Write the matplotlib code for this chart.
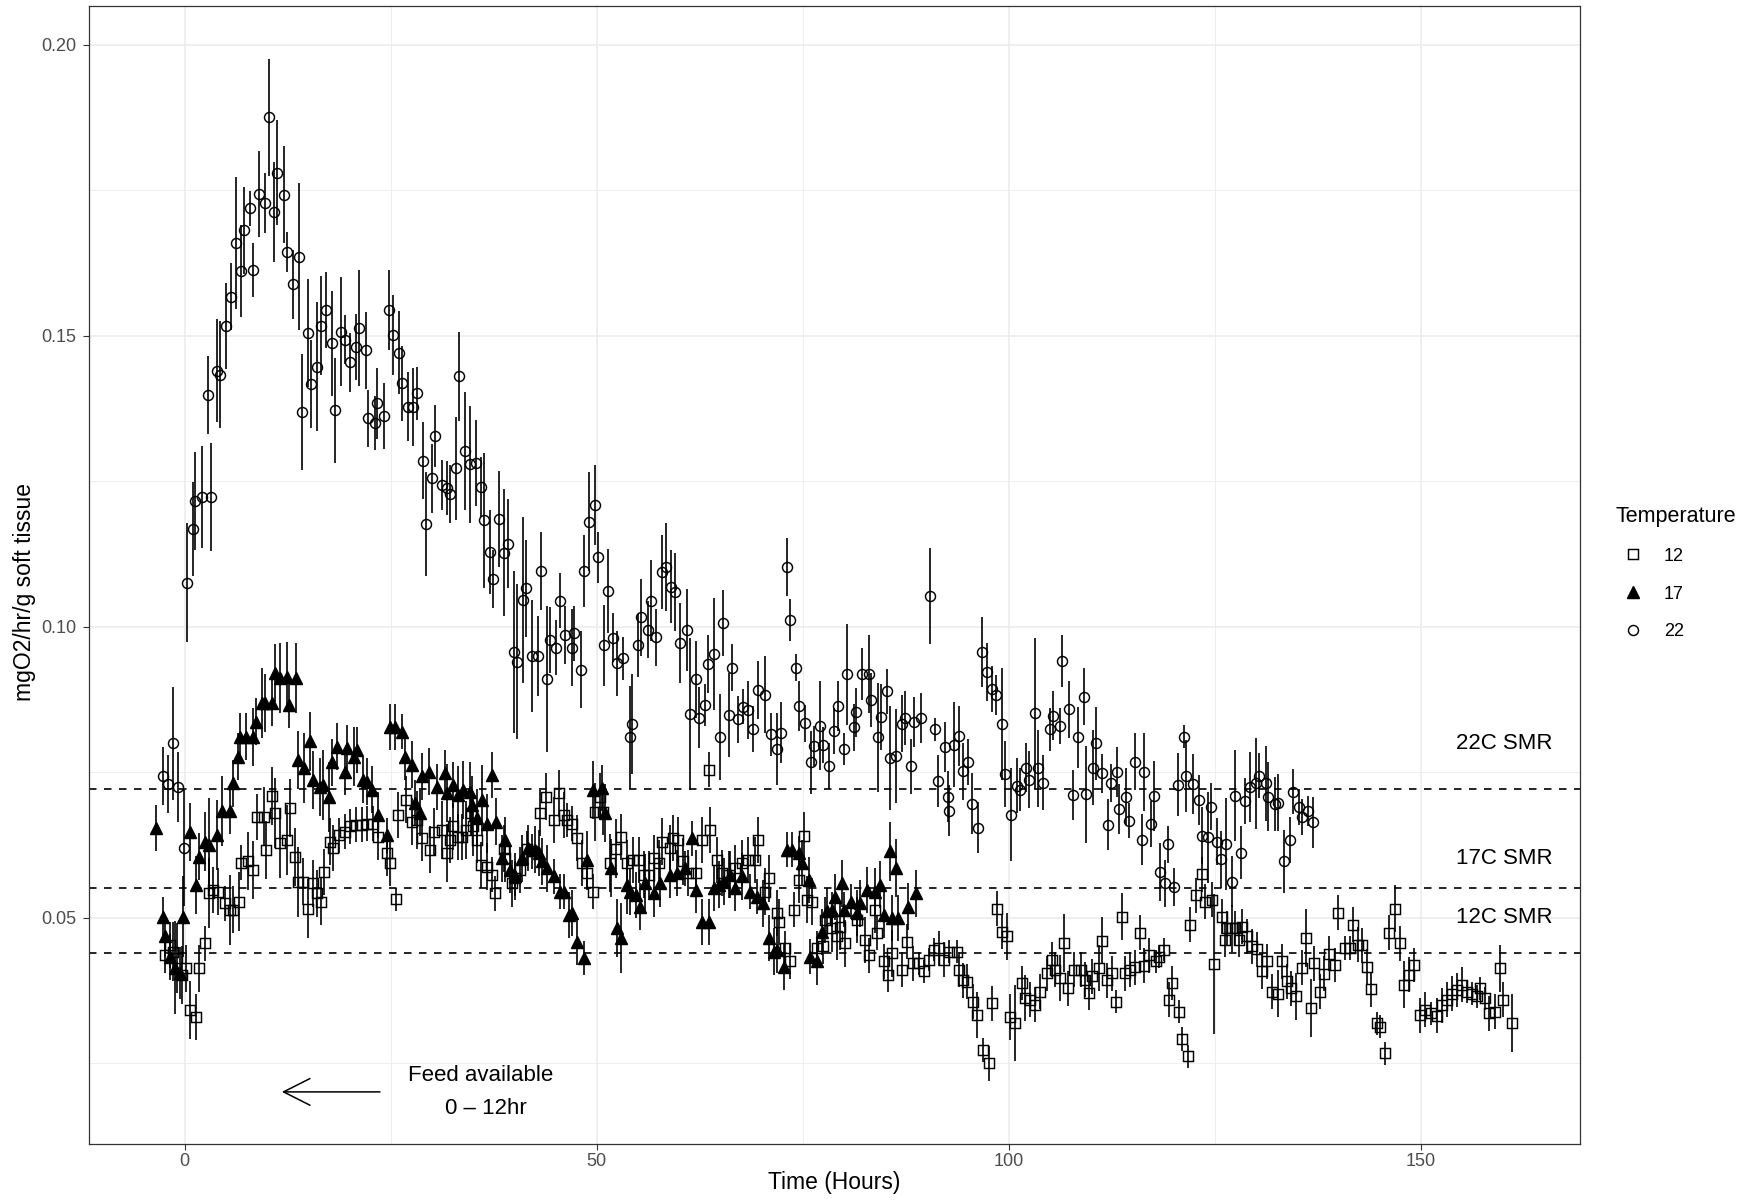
import matplotlib
matplotlib.use("Agg")
import matplotlib.pyplot as plt
from matplotlib.lines import Line2D
from matplotlib.ticker import MultipleLocator

plt.rcParams['font.family'] = ['Liberation Sans', 'DejaVu Sans']

# --- 22 C : temps (h), consommation O2, erreur ---
hrs_22 = [-2.65, -1.97, -1.36, -0.75, -0.06, 0.27, 1.0, 1.27, 2.1, 2.85,
          3.2, 3.95, 4.3, 5.04, 5.6, 6.2, 6.86, 7.26, 7.95, 8.35,
          9.04, 9.73, 10.2, 10.9, 11.2, 12.0, 12.4, 13.1, 13.9, 14.2,
          14.95, 15.3, 16.1, 16.6, 17.2, 17.9, 18.3, 19.0, 19.4, 20.1,
          20.8, 21.2, 22.0, 22.3, 23.1, 23.4, 24.2, 24.85, 25.3, 26.0,
          26.4, 27.1, 27.7, 28.2, 28.9, 29.3, 30.0, 30.4, 31.2, 31.8,
          32.2, 32.95, 33.35, 34.0, 34.6, 35.3, 35.9, 36.3, 37.1, 37.4,
          38.1, 38.8, 39.2, 40.0, 40.3, 41.0, 41.4, 42.1, 42.9, 43.3,
          43.96, 44.3, 45.1, 45.6, 46.2, 47.0, 47.3, 48.1, 48.4, 49.1,
          49.8, 50.2, 50.9, 51.4, 52.0, 52.5, 53.2, 54.0, 54.3, 55.0,
          55.4, 56.2, 56.6, 57.2, 57.9, 58.4, 59.0, 59.5, 60.1, 60.9,
          61.3, 62.1, 62.35, 63.1, 63.5, 64.2, 65.0, 65.3, 66.0, 66.4,
          67.1, 67.7, 68.4, 69.0, 69.6, 70.45, 71.2, 71.9, 72.35, 73.1,
          73.4, 74.2, 74.6, 75.3, 76.0, 76.4, 77.1, 77.45, 78.2, 78.8,
          79.3, 80.0, 80.4, 81.2, 81.5, 82.2, 83.0, 83.3, 84.1, 84.5,
          85.2, 85.6, 86.3, 87.0, 87.4, 88.1, 88.5, 89.3, 90.4, 91.1,
          91.4, 92.2, 92.6, 92.8, 93.3, 94.0, 94.4, 95.1, 95.5, 96.2,
          96.7, 97.35, 98.0, 98.45, 99.2, 99.5, 100.3, 101.0, 101.4, 102.1,
          102.5, 103.2, 103.5, 104.2, 105.0, 105.4, 106.2, 106.5, 107.3, 107.8,
          108.4, 109.1, 109.4, 110.2, 110.6, 111.3, 112.0, 112.4, 113.1, 113.4,
          114.2, 114.6, 115.35, 116.1, 116.4, 117.2, 117.6, 118.3, 119.0, 119.3,
          120.1, 120.5, 121.2, 121.5, 122.35, 123.1, 123.4, 124.2, 124.5, 125.3,
          125.7, 126.4, 127.1, 127.5, 128.2, 128.6, 129.3, 130.0, 130.4, 131.2,
          131.5, 132.3, 132.6, 133.35, 134.1, 134.45, 135.2, 135.6, 136.3, 136.9]
o2_22 = [.0744, .0730, .0800, .0725, .0620, .1076, .1168, .1216, .1223, .1398,
         .1223, .1440, .1433, .1517, .1567, .1659, .1611, .1681, .1719, .1613,
         .1743, .1728, .1875, .1713, .1780, .1742, .1644, .1588, .1636, .1369,
         .1505, .1417, .1447, .1517, .1544, .1487, .1372, .1507, .1493, .1454,
         .1481, .1513, .1475, .1358, .1350, .1384, .1362, .1544, .1501, .1471,
         .1418, .1378, .1378, .1401, .1285, .1176, .1255, .1328, .1244, .1238,
         .1228, .1272, .1430, .1302, .1279, .1281, .1240, .1183, .1129, .1082,
         .1185, .1127, .1143, .0956, .0940, .1046, .1066, .0950, .0950, .1096,
         .0910, .0977, .0964, .1045, .0986, .0964, .0989, .0926, .1096, .1180,
         .1209, .1119, .0968, .1061, .0981, .0937, .0946, .0810, .0833, .0968,
         .1016, .0995, .1045, .0982, .1094, .1103, .1069, .1059, .0972, .0994,
         .0850, .0910, .0844, .0866, .0936, .0953, .0810, .1006, .0848, .0930,
         .0841, .0863, .0857, .0824, .0891, .0883, .0815, .0790, .0818, .1102,
         .1011, .0930, .0864, .0834, .0767, .0795, .0830, .0797, .0761, .0821,
         .0864, .0790, .0918, .0827, .0853, .0919, .0918, .0874, .0810, .0845,
         .0889, .0775, .0778, .0833, .0843, .0760, .0837, .0844, .1053, .0824,
         .0735, .0794, .0708, .0684, .0797, .0812, .0752, .0768, .0696, .0655,
         .0956, .0922, .0893, .0883, .0833, .0747, .0677, .0727, .0720, .0758,
         .0737, .0851, .0757, .0732, .0824, .0847, .0830, .0941, .0858, .0711,
         .0810, .0880, .0712, .0758, .0800, .0748, .0660, .0732, .0750, .0687,
         .0708, .0667, .0768, .0634, .0751, .0661, .0710, .0579, .0559, .0626,
         .0553, .0729, .0811, .0744, .0730, .0703, .0641, .0638, .0691, .0631,
         .0601, .0626, .0562, .0710, .0612, .0701, .0724, .0731, .0744, .0731,
         .0708, .0696, .0698, .0597, .0634, .0717, .0690, .0673, .0684, .0664]
se_22 = [.005, .005, .0097, .006, .010, .0102, .008, .0084, .0088, .0067,
         .0093, .0089, .0092, .0074, .0058, .0114, .0079, .0075, .003, .0047,
         .0074, .0052, .010, .0086, .009, .0083, .0034, .006, .0127, .010,
         .0093, .0076, .011, .0085, .0065, .009, .009, .0094, .0042, .005,
         .0057, .010, .0066, .0049, .0047, .0061, .0057, .0069, .0069, .0072,
         .0064, .0059, .0067, .0046, .0066, .0089, .0059, .0053, .0043, .0046,
         .0049, .0089, .0077, .0102, .010, .0074, .0052, .0116, .0072, .0049,
         .0082, .0109, .0077, .0139, .0133, .0143, .0083, .0096, .0069, .0067,
         .0125, .0057, .0047, .0047, .005, .0066, .0047, .0066, .0062, .0085,
         .0069, .0044, .007, .0072, .0042, .0056, .0037, .0089, .0086, .0054,
         .0066, .0049, .007, .0049, .0063, .0076, .0063, .0067, .0069, .007,
         .013, .0066, .0052, .0036, .0049, .0096, .0074, .0057, .0072, .004,
         .004, .003, .005, .004, .005, .0066, .0037, .0062, .0052, .005,
         .0036, .0024, .0043, .0032, .0054, .0034, .0076, .0031, .004, .004,
         .0043, .0027, .0087, .004, .0042, .0044, .0067, .0047, .0094, .0056,
         .0039, .0089, .008, .0049, .0046, .0047, .0043, .0043, .0082, .002,
         .0044, .0043, .0044, .0044, .0073, .0052, .0049, .004, .0052, .0044,
         .006, .005, .0039, .0034, .0096, .0057, .008, .0047, .0037, .0042,
         .0049, .0129, .0066, .0047, .0037, .0042, .0031, .0044, .0049, .0043,
         .0053, .0049, .0083, .0064, .0063, .0033, .0044, .0033, .0043, .0043,
         .0049, .003, .0049, .0044, .0067, .004, .006, .005, .004, .0031,
         .0033, .0054, .002, .0062, .0052, .0043, .0049, .0079, .004, .004,
         .0049, .0079, .0044, .0078, .0046, .0039, .006, .0078, .0039, .0065,
         .0059, .0046, .0049, .0054, .0039, .0039, .0031, .0031, .0026, .0044]

# --- 17 C ---
hrs_17 = [-3.46, -2.65, -2.37, -1.76, -1.15, -0.5, -0.15, 0.67, 1.4, 1.7,
          2.5, 2.9, 3.9, 4.5, 5.45, 5.9, 6.5, 6.7, 7.5, 8.35,
          8.7, 9.4, 9.8, 10.6, 11.0, 11.6, 12.4, 12.7, 13.5, 13.8,
          14.5, 15.2, 15.6, 16.4, 16.8, 17.5, 17.9, 18.5, 19.4, 19.7,
          20.5, 20.9, 21.6, 22.1, 22.7, 23.5, 24.5, 24.9, 25.5, 26.4,
          26.8, 27.6, 28.0, 28.6, 28.8, 29.6, 30.6, 31.6, 31.8, 32.6,
          33.2, 33.8, 34.6, 34.9, 35.5, 36.1, 36.7, 37.3, 37.8, 38.5,
          38.9, 39.5, 40.1, 40.9, 41.7, 42.5, 43.0, 43.4, 44.0, 44.8,
          45.6, 46.0, 46.6, 47.0, 47.6, 48.4, 48.8, 49.5, 50.6, 51.0,
          51.7, 52.5, 52.9, 53.7, 54.0, 54.8, 55.3, 55.8, 56.9, 57.7,
          58.9, 59.7, 60.7, 61.55, 62.1, 62.8, 63.6, 64.2, 64.8, 65.4,
          66.2, 66.8, 67.6, 68.6, 69.4, 70.2, 70.85, 71.5, 71.9, 72.7,
          73.1, 73.7, 74.5, 74.9, 75.7, 75.9, 76.7, 77.3, 77.9, 78.5,
          78.9, 79.8, 80.0, 80.8, 81.6, 82.0, 82.8, 83.8, 84.4, 84.8,
          85.6, 85.8, 86.3, 86.6, 87.8, 88.7]
o2_17 = [.0654, .0502, .0468, .0433, .0414, .0405, .0502, .0648, .0557, .0605,
         .0631, .0625, .0642, .0684, .0684, .0731, .0777, .0811, .0811, .0811,
         .0837, .0869, .0869, .0869, .0920, .0912, .0914, .0866, .0912, .0771,
         .0757, .0803, .0737, .0725, .0728, .0708, .0767, .0794, .0751, .0791,
         .0777, .0788, .0737, .0734, .0720, .0677, .0642, .0828, .0828, .0820,
         .0777, .0763, .0697, .0680, .0743, .0751, .0725, .0748, .0714, .0728,
         .0711, .0720, .0717, .0694, .0671, .0702, .0662, .0745, .0665, .0602,
         .0634, .0582, .0571, .0602, .0620, .0617, .0611, .0597, .0585, .0571,
         .0545, .0545, .0505, .0508, .0459, .0431, .0600, .0720, .0723, .0680,
         .0585, .0482, .0465, .0557, .0545, .0539, .0519, .0559, .0542, .0559,
         .0574, .0577, .0585, .0637, .0548, .0493, .0493, .0551, .0557, .0562,
         .0574, .0551, .0571, .0545, .0536, .0525, .0465, .0442, .0445, .0416,
         .0617, .0617, .0611, .0594, .0565, .0433, .0425, .0476, .0511, .0514,
         .0536, .0559, .0514, .0528, .0508, .0525, .0548, .0545, .0557, .0505,
         .0614, .0500, .0585, .0500, .0519, .0542]
se_17 = [.004, .0033, .0035, .004, .008, .0045, .007, .005, .005, .004,
         .005, .008, .006, .006, .004, .004, .004, .004, .004, .005,
         .004, .006, .005, .004, .005, .006, .006, .004, .006, .005,
         .006, .005, .005, .005, .006, .006, .004, .004, .004, .004,
         .005, .004, .004, .004, .004, .004, .003, .004, .004, .003,
         .004, .004, .004, .004, .004, .004, .004, .004, .005, .004,
         .005, .005, .005, .005, .005, .006, .005, .004, .004, .004,
         .004, .004, .004, .004, .004, .004, .004, .004, .004, .003,
         .003, .003, .004, .004, .004, .003, .005, .005, .004, .005,
         .005, .005, .006, .005, .004, .004, .004, .005, .004, .004,
         .004, .004, .003, .003, .004, .004, .004, .004, .004, .004,
         .004, .004, .004, .003, .003, .004, .004, .004, .004, .004,
         .003, .003, .003, .004, .004, .003, .004, .004, .004, .003,
         .004, .004, .003, .003, .004, .004, .004, .004, .004, .004,
         .005, .004, .005, .004, .004, .004]

# --- 12 C ---
hrs_12 = [-2.37, -1.76, -1.36, -0.95, -0.34, 0.18, 0.67, 1.4, 1.8, 2.5,
          2.9, 3.5, 4.1, 4.9, 5.5, 5.9, 6.65, 6.9, 7.7, 8.35,
          8.8, 9.6, 9.9, 10.6, 11.0, 11.6, 12.4, 12.8, 13.4, 13.8,
          14.4, 15.0, 15.6, 16.1, 16.5, 16.9, 17.6, 18.0, 18.7, 19.5,
          20.1, 20.8, 21.5, 22.1, 22.9, 23.5, 24.5, 24.9, 25.7, 25.9,
          26.9, 27.6, 28.2, 28.8, 29.8, 30.2, 31.2, 31.8, 32.2, 32.6,
          33.2, 33.6, 34.2, 34.7, 35.0, 35.5, 35.9, 36.7, 37.3, 37.7,
          38.7, 38.9, 39.7, 40.1, 40.7, 41.5, 42.1, 43.1, 43.8, 44.8,
          45.4, 46.0, 46.4, 47.0, 47.6, 48.2, 48.8, 49.5, 49.8, 50.4,
          50.8, 51.6, 52.4, 52.9, 53.7, 54.4, 55.1, 55.7, 56.3, 56.9,
          57.5, 57.9, 58.9, 59.3, 59.9, 60.5, 61.1, 62.0, 62.8, 63.6,
          63.8, 64.6, 65.2, 66.0, 66.8, 67.6, 68.4, 69.2, 69.6, 70.45,
          70.85, 71.9, 72.1, 72.9, 73.5, 73.9, 74.5, 75.1, 75.5, 76.1,
          76.7, 77.5, 77.7, 78.5, 79.1, 79.5, 80.1, 81.6, 82.6, 83.0,
          83.8, 84.0, 84.8, 85.4, 85.8, 87.0, 87.6, 88.4, 89.1, 89.7,
          90.3, 90.9, 91.5, 92.1, 92.7, 93.7, 93.9, 94.5, 94.9, 95.7,
          96.1, 96.9, 97.55, 98.0, 98.6, 99.2, 99.8, 100.2, 100.8, 101.6,
          102.0, 102.6, 103.2, 103.8, 104.6, 105.2, 105.6, 106.2, 106.7, 107.2,
          107.9, 108.7, 109.3, 109.7, 110.1, 110.9, 111.3, 111.9, 112.5, 113.0,
          113.7, 114.1, 114.7, 115.3, 115.9, 116.4, 117.0, 117.8, 118.2, 118.8,
          119.4, 119.8, 120.6, 121.0, 121.7, 122.0, 122.75, 123.4, 123.8, 124.7,
          124.9, 125.9, 126.2, 126.5, 127.1, 127.5, 127.9, 128.3, 128.9, 129.5,
          130.1, 130.7, 131.3, 131.9, 132.6, 133.1, 133.8, 134.2, 134.9, 135.6,
          136.0, 136.7, 137.0, 137.8, 138.2, 138.9, 139.6, 139.9, 140.8, 141.4,
          141.8, 142.4, 142.9, 143.5, 144.0, 144.7, 145.0, 145.7, 146.1, 146.9,
          147.5, 148.0, 148.5, 149.1, 149.9, 150.55, 151.2, 152.0, 152.6, 153.2,
          153.8, 154.4, 155.0, 155.6, 156.2, 156.8, 157.2, 157.8, 158.2, 159.0,
          159.6, 160.0, 161.0]
o2_12 = [.0436, .0453, .0442, .0431, .0402, .0413, .0342, .0330, .0413, .0456,
         .0542, .0548, .0545, .0525, .0514, .0514, .0528, .0595, .0597, .0582,
         .0673, .0674, .0617, .0709, .0680, .0628, .0634, .0688, .0605, .0562,
         .0562, .0516, .0559, .0542, .0528, .0579, .0631, .0620, .0642, .0648,
         .0657, .0660, .0660, .0662, .0662, .0639, .0611, .0594, .0532, .0677,
         .0703, .0665, .0668, .0637, .0617, .0648, .0651, .0611, .0634, .0657,
         .0639, .0639, .0651, .0680, .0657, .0634, .0591, .0588, .0574, .0542,
         .0619, .0602, .0559, .0568, .0582, .0619, .0614, .0680, .0708, .0668,
         .0714, .0677, .0668, .0662, .0637, .0594, .0577, .0545, .0682, .0708,
         .0682, .0594, .0619, .0639, .0594, .0599, .0599, .0574, .0574, .0602,
         .0594, .0631, .0620, .0637, .0634, .0597, .0577, .0577, .0634, .0754,
         .0651, .0599, .0577, .0574, .0585, .0594, .0599, .0599, .0634, .0545,
         .0568, .0508, .0493, .0448, .0425, .0514, .0565, .0641, .0531, .0528,
         .0448, .0451, .0496, .0482, .0468, .0485, .0456, .0496, .0462, .0436,
         .0514, .0474, .0425, .0402, .0439, .0411, .0459, .0422, .0422, .0408,
         .0428, .0445, .0448, .0428, .0442, .0442, .0411, .0393, .0390, .0356,
         .0333, .0273, .0250, .0353, .0516, .0476, .0468, .0330, .0319, .0388,
         .0362, .0359, .0351, .0373, .0405, .0428, .0411, .0397, .0457, .0379,
         .0411, .0411, .0394, .0371, .0400, .0414, .0461, .0393, .0405, .0356,
         .0502, .0405, .0411, .0415, .0474, .0418, .0436, .0425, .0433, .0445,
         .0359, .0388, .0339, .0292, .0262, .0488, .0539, .0575, .0528, .0531,
         .0421, .0502, .0462, .0482, .0482, .0482, .0462, .0485, .0468, .0451,
         .0446, .0408, .0425, .0373, .0370, .0425, .0391, .0379, .0365, .0414,
         .0465, .0345, .0422, .0373, .0404, .0438, .0419, .0509, .0448, .0448,
         .0488, .0454, .0453, .0416, .0377, .0319, .0313, .0267, .0474, .0516,
         .0456, .0385, .0402, .0419, .0333, .0342, .0336, .0332, .0350, .0359,
         .0370, .0376, .0385, .0373, .0370, .0365, .0379, .0362, .0336, .0339,
         .0413, .0359, .0320]
se_12 = [.003, .004, .005, .006, .005, .004, .005, .004, .004, .003,
         .006, .004, .004, .003, .006, .004, .005, .003, .005, .005,
         .004, .005, .005, .005, .006, .006, .006, .005, .005, .006,
         .004, .005, .004, .004, .004, .004, .004, .004, .003, .003,
         .003, .003, .003, .003, .003, .004, .004, .004, .002, .004,
         .004, .004, .005, .004, .004, .004, .005, .005, .004, .004,
         .004, .004, .005, .004, .005, .004, .004, .004, .003, .003,
         .004, .004, .004, .003, .004, .003, .003, .004, .004, .004,
         .004, .004, .003, .003, .004, .004, .003, .003, .005, .004,
         .004, .005, .005, .004, .004, .004, .004, .004, .004, .004,
         .004, .004, .004, .004, .004, .004, .004, .004, .004, .003,
         .004, .004, .004, .004, .004, .004, .004, .004, .004, .004,
         .004, .004, .004, .003, .003, .003, .004, .004, .004, .004,
         .003, .003, .004, .004, .004, .004, .004, .004, .004, .003,
         .004, .003, .003, .003, .004, .003, .003, .003, .002, .002,
         .002, .002, .003, .003, .002, .002, .003, .003, .003, .003,
         .004, .002, .003, .003, .003, .003, .004, .004, .0065, .003,
         .004, .003, .003, .003, .003, .003, .003, .004, .005, .003,
         .003, .003, .003, .003, .003, .004, .004, .003, .003, .002,
         .004, .003, .003, .003, .003, .003, .003, .002, .002, .002,
         .003, .003, .002, .002, .002, .003, .003, .003, .003, .003,
         .012, .003, .003, .003, .004, .003, .003, .003, .003, .003,
         .003, .003, .003, .003, .004, .003, .003, .003, .004, .003,
         .005, .005, .003, .003, .003, .003, .003, .003, .002, .002,
         .003, .003, .003, .003, .003, .002, .002, .002, .003, .004,
         .003, .004, .003, .003, .003, .003, .002, .003, .003, .003,
         .003, .003, .003, .002, .002, .002, .002, .002, .003, .003,
         .004, .003, .005]

# niveaux SMR (lignes pointillées) et leurs étiquettes
smr_levels = [0.0721, 0.0552, 0.0440]
smr_labels = ["22C SMR", "17C SMR", "12C SMR"]
smr_label_y = [0.0800, 0.0602, 0.0500]

series = [
    ("12", hrs_12, o2_12, se_12, dict(marker='s', mfc='none', ms=7.0)),
    ("17", hrs_17, o2_17, se_17, dict(marker='^', mfc='black', ms=8.0)),
    ("22", hrs_22, o2_22, se_22, dict(marker='o', mfc='none', ms=7.2)),
]

fig = plt.figure(figsize=(17.53, 12.03), dpi=100)
W, H = 1753, 1203
ax = fig.add_axes([89 / W, 1 - 1143.7 / H, (1580 - 89) / W, (1143.7 - 5.6) / H])

for lab, t, y, e, st in series:
    ax.errorbar(t, y, yerr=e, fmt='none', ecolor='black', elinewidth=1.2, zorder=3)
    ax.plot(t, y, linestyle='none', mec='black', mew=1.05, zorder=4, **st)

for lv in smr_levels:
    ax.axhline(lv, color='black', lw=1.2, ls=(0, (4.5, 4.5)), zorder=2)
for lab, yy in zip(smr_labels, smr_label_y):
    ax.text(160.1, yy, lab, ha='center', va='center', fontsize=16)

# fleche et texte de l'alimentation
ax.annotate('', xy=(11.8, 0.0201), xytext=(23.7, 0.0201),
            arrowprops=dict(arrowstyle='->,head_length=0.95,head_width=0.48',
                            lw=1.1, color='black', shrinkA=0, shrinkB=0,
                            mutation_scale=20))
ax.text(35.95, 0.0229, "Feed available", ha='center', va='center', fontsize=16)
ax.text(36.6, 0.0172, "0 \u2013 12hr", ha='center', va='center', fontsize=16)

ax.set_xlim(-11.6, 169.3)
ax.set_ylim(0.0112, 0.2067)
ax.xaxis.set_major_locator(MultipleLocator(50))
ax.xaxis.set_minor_locator(MultipleLocator(25))
ax.yaxis.set_major_locator(MultipleLocator(0.05))
ax.yaxis.set_minor_locator(MultipleLocator(0.025))
ax.yaxis.set_major_formatter(matplotlib.ticker.FormatStrFormatter('%.2f'))
ax.grid(which='major', color='#EBEBEB', lw=1.1)
ax.grid(which='minor', color='#EBEBEB', lw=0.6)
ax.set_axisbelow(True)
ax.tick_params(which='major', length=4, width=0.8, color='#333333',
               labelsize=13, labelcolor='#4D4D4D')
ax.tick_params(axis='x', pad=3)
ax.tick_params(axis='y', pad=5)
ax.tick_params(which='minor', length=0)
for sp in ax.spines.values():
    sp.set_color('#333333')
    sp.set_linewidth(0.9)

ax.set_xlabel("Time (Hours)", fontsize=16.5, va='center')
ax.set_ylabel("mgO2/hr/g soft tissue", fontsize=16.5, va='center')
ax.xaxis.set_label_coords(0.5, -0.0345)
ax.yaxis.set_label_coords(-0.043, 0.485)

handles = [Line2D([], [], linestyle='none', mec='black', mew=1.05, **st)
           for lab, t, y, e, st in series]
ax.legend(handles, [s[0] for s in series], title="Temperature",
          loc='upper left', bbox_to_anchor=(1606 / W, 1 - 497 / H),
          bbox_transform=fig.transFigure, frameon=False, fontsize=13,
          title_fontsize=15.5, alignment='left', borderpad=0,
          handlelength=2.0, handletextpad=0.7, labelspacing=1.15)

fig.savefig("out.png", dpi=100)
